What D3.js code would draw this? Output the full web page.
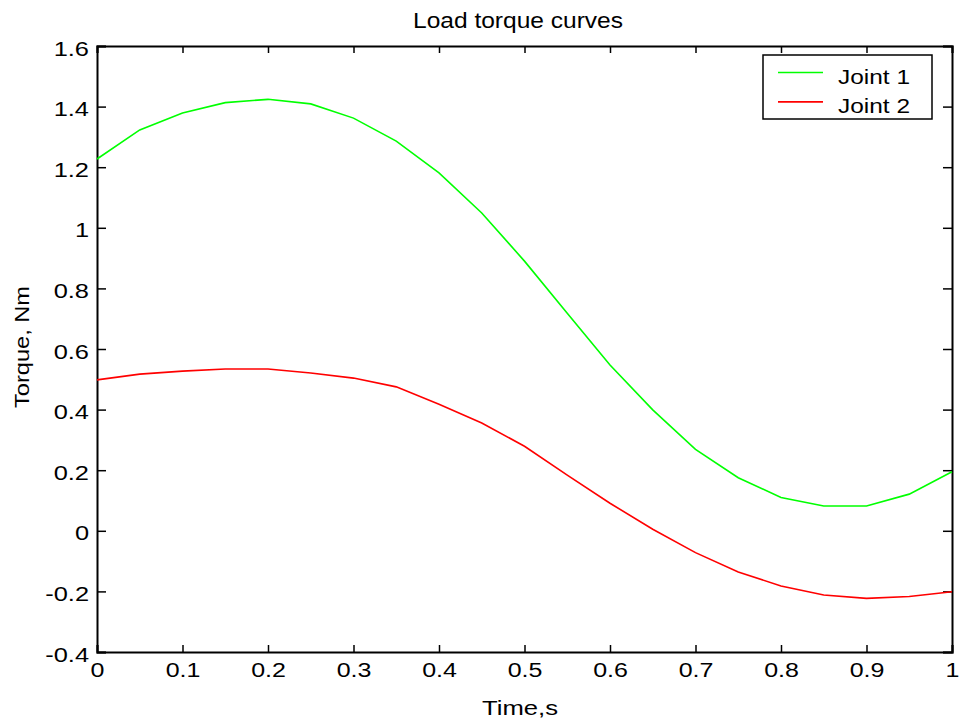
<!DOCTYPE html>
<html>
<head>
<meta charset="utf-8">
<script src="https://cdn.jsdelivr.net/npm/d3@7"></script>
<style>
  body { margin: 0; background: #fff; }
  text { font-family: "Liberation Sans", Arial, sans-serif; fill: #000; }
</style>
</head>
<body>
<div id="chart"></div>
<script>
var width = 962, height = 720;

var time = [0, 0.05, 0.1, 0.15, 0.2, 0.25, 0.3, 0.35, 0.4, 0.45, 0.5,
            0.55, 0.6, 0.65, 0.7, 0.75, 0.8, 0.85, 0.9, 0.95, 1];
var joint1 = [1.227, 1.323, 1.379, 1.413, 1.424, 1.409, 1.362, 1.286, 1.181, 1.049, 0.890,
              0.718, 0.547, 0.399, 0.269, 0.175, 0.110, 0.082, 0.082, 0.121, 0.195];
var joint2 = [0.498, 0.517, 0.527, 0.534, 0.534, 0.521, 0.504, 0.475, 0.418, 0.356, 0.279,
              0.184, 0.091, 0.005, -0.072, -0.136, -0.182, -0.212, -0.223, -0.217, -0.201];
var series = [
    {name: "Joint 1", color: "#00ff00", values: joint1},
    {name: "Joint 2", color: "#ff0000", values: joint2}
];
var xTicks = [0, 0.1, 0.2, 0.3, 0.4, 0.5, 0.6, 0.7, 0.8, 0.9, 1];
var yTicks = [-0.4, -0.2, 0, 0.2, 0.4, 0.6, 0.8, 1, 1.2, 1.4, 1.6];

var margin = {left: 97, right: 10, top: 46, bottom: 68};

var svg = d3.select("#chart").append("svg").attr("width", width).attr("height", height);

var x = d3.scaleLinear().domain([0, 1]).range([margin.left, width - margin.right]);
var y = d3.scaleLinear().domain([-0.4, 1.6]).range([height - margin.bottom, margin.top]);

// plain hyphen for negatives, like the original
var fmt = function(d){ return String(+d.toFixed(1)); };

// the original's text is wider than Arial, so stretch it sideways
function stretch(sel, k){
    sel.each(function(){
        var len = this.getComputedTextLength();
        d3.select(this).attr("textLength", len * k).attr("lengthAdjust", "spacingAndGlyphs");
    });
}
function fitTo(sel, len){
    sel.attr("textLength", len).attr("lengthAdjust", "spacingAndGlyphs");
}

// bottom + top axes, ticks pointing inward
svg.append("g")
    .attr("transform", "translate(0," + y(-0.4) + ")")
    .call(d3.axisBottom(x).tickValues(xTicks).tickSize(-7).tickPadding(11).tickFormat(fmt))
    .call(function(g){ g.selectAll("text").attr("font-size", 20).attr("dy", "0.71em").call(stretch, 1.25); });
svg.append("g")
    .attr("transform", "translate(0," + y(1.6) + ")")
    .call(d3.axisTop(x).tickValues(xTicks).tickSize(-7).tickFormat(""));

// left + right axes
svg.append("g")
    .attr("transform", "translate(" + x(0) + ",0)")
    .call(d3.axisLeft(y).tickValues(yTicks).tickSize(-9).tickPadding(8).tickFormat(fmt))
    .call(function(g){ g.selectAll("text").attr("font-size", 20).attr("dy", "0.45em").call(stretch, 1.27); });
svg.append("g")
    .attr("transform", "translate(" + x(1) + ",0)")
    .call(d3.axisRight(y).tickValues(yTicks).tickSize(-9).tickFormat(""));

svg.selectAll(".domain").attr("stroke", "#000").attr("stroke-width", 2);
svg.selectAll(".tick line").attr("stroke", "#000").attr("stroke-width", 1.5);

var line = d3.line()
    .x(function(d, i){ return x(time[i]); })
    .y(function(d){ return y(d); });

svg.selectAll("path.curve")
    .data(series)
    .enter().append("path")
    .attr("class", "curve")
    .attr("fill", "none")
    .attr("stroke", function(d){ return d.color; })
    .attr("stroke-width", 1.6)
    .attr("d", function(d){ return line(d.values); });

// title and labels
svg.append("text").attr("x", 518).attr("y", 28).attr("text-anchor", "middle")
    .attr("font-size", 22).text("Load torque curves").call(fitTo, 210);
svg.append("text").attr("x", 520).attr("y", 715).attr("text-anchor", "middle")
    .attr("font-size", 21).text("Time,s").call(fitTo, 76);
svg.append("text").attr("transform", "translate(29,347) rotate(-90)").attr("text-anchor", "middle")
    .attr("font-size", 21).text("Torque, Nm").call(fitTo, 122);

// legend
var legend = svg.append("g").attr("transform", "translate(763,55)");
legend.append("rect").attr("width", 169).attr("height", 64)
    .attr("fill", "#fff").attr("stroke", "#000").attr("stroke-width", 1.5);
var item = legend.selectAll("g.item").data(series).enter().append("g")
    .attr("class", "item")
    .attr("transform", function(d, i){ return "translate(0," + (17.5 + i * 29.4) + ")"; });
item.append("line").attr("x1", 15).attr("x2", 60)
    .attr("stroke", function(d){ return d.color; }).attr("stroke-width", 1.6);
item.append("text").attr("x", 75).attr("y", 11).attr("font-size", 21)
    .text(function(d){ return d.name; }).call(fitTo, 72);
</script>
</body>
</html>
